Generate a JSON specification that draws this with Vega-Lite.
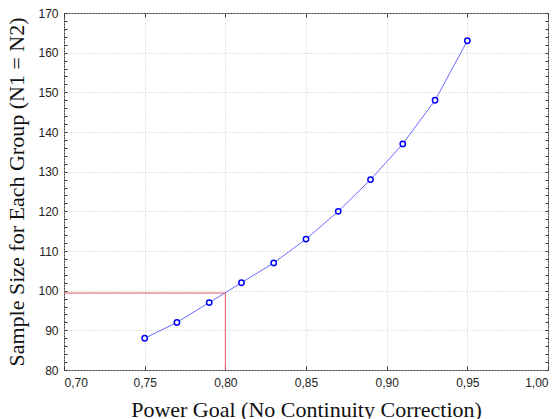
{
  "$schema": "https://vega.github.io/schema/vega-lite/v6.json",
  "width": 484,
  "height": 357,
  "autosize": "none",
  "padding": {"left": 64, "top": 13, "right": 12, "bottom": 49},
  "background": "white",
  "config": {
    "view": {"stroke": "#3c3c3c", "strokeWidth": 1},
    "axis": {
      "labelFont": "Liberation Sans",
      "labelFontSize": 12,
      "labelColor": "#222222",
      "titleFont": "Liberation Serif",
      "titleFontSize": 22,
      "titleFontWeight": "normal",
      "titleColor": "#111111",
      "domain": false,
      "tickColor": "#3c3c3c",
      "gridColor": "#c8c8c8",
      "gridDash": [1, 2],
      "gridWidth": 1
    }
  },
  "datasets": {
    "pts": [
      {"power": 0.75, "n": 88},
      {"power": 0.77, "n": 92},
      {"power": 0.79, "n": 97},
      {"power": 0.81, "n": 102},
      {"power": 0.83, "n": 107},
      {"power": 0.85, "n": 113},
      {"power": 0.87, "n": 120},
      {"power": 0.89, "n": 128},
      {"power": 0.91, "n": 137},
      {"power": 0.93, "n": 148},
      {"power": 0.95, "n": 163}
    ],
    "ref": [
      {"x": 0.70, "x2": 0.80, "y": 99.4, "y2": 99.4},
      {"x": 0.80, "x2": 0.80, "y": 80, "y2": 99.4}
    ]
  },
  "layer": [
    {
      "data": {"name": "pts"},
      "mark": {"type": "line", "color": "#6a6aff", "strokeWidth": 1},
      "encoding": {
        "x": {
          "field": "power", "type": "quantitative",
          "scale": {"domain": [0.7, 1.0], "nice": false, "zero": false},
          "axis": {
            "orient": "bottom",
            "title": "Power Goal (No Continuity Correction)",
            "values": [0.7, 0.75, 0.8, 0.85, 0.9, 0.95, 1.0],
            "labelExpr": "replace(format(datum.value, '.2f'), '.', ',')",
            "tickSize": -4,
            "labelPadding": 11,
            "titlePadding": 11,
            "grid": true
          }
        },
        "y": {
          "field": "n", "type": "quantitative",
          "scale": {"domain": [80, 170], "nice": false, "zero": false},
          "axis": {
            "orient": "left",
            "title": "Sample Size for Each Group (N1 = N2)",
            "values": [80, 82, 84, 86, 88, 90, 92, 94, 96, 98, 100, 102, 104, 106, 108, 110, 112, 114, 116, 118, 120, 122, 124, 126, 128, 130, 132, 134, 136, 138, 140, 142, 144, 146, 148, 150, 152, 154, 156, 158, 160, 162, 164, 166, 168, 170],
            "labelExpr": "datum.value % 10 == 0 ? datum.label : ''",
            "tickSize": -3,
            "labelPadding": 9,
            "titlePadding": 9,
            "grid": true,
            "gridOpacity": {"condition": {"test": "datum.value % 10 == 0", "value": 1}, "value": 0}
          }
        }
      }
    },
    {
      "data": {"name": "ref"},
      "mark": {"type": "rule", "color": "#e05a66", "strokeWidth": 1},
      "encoding": {
        "x": {"field": "x", "type": "quantitative", "axis": null},
        "x2": {"field": "x2"},
        "y": {"field": "y", "type": "quantitative", "axis": null},
        "y2": {"field": "y2"}
      }
    },
    {
      "data": {"name": "pts"},
      "mark": {"type": "point", "shape": "circle", "filled": false, "fill": "white", "color": "#0000ff", "strokeWidth": 1.5, "size": 28, "opacity": 1},
      "encoding": {
        "x": {"field": "power", "type": "quantitative", "axis": null},
        "y": {"field": "n", "type": "quantitative", "axis": null}
      }
    },
    {
      "data": {"name": "pts"},
      "mark": {"type": "point", "opacity": 0},
      "encoding": {
        "x": {
          "field": "power", "type": "quantitative",
          "axis": {
            "orient": "top", "title": null, "labels": false, "grid": false,
            "values": [0.7, 0.75, 0.8, 0.85, 0.9, 0.95, 1.0],
            "tickSize": -4
          }
        },
        "y": {
          "field": "n", "type": "quantitative",
          "axis": {
            "orient": "right", "title": null, "labels": false, "grid": false,
            "values": [80, 82, 84, 86, 88, 90, 92, 94, 96, 98, 100, 102, 104, 106, 108, 110, 112, 114, 116, 118, 120, 122, 124, 126, 128, 130, 132, 134, 136, 138, 140, 142, 144, 146, 148, 150, 152, 154, 156, 158, 160, 162, 164, 166, 168, 170],
            "tickSize": -3
          }
        }
      }
    }
  ],
  "resolve": {"axis": {"x": "independent", "y": "independent"}}
}
